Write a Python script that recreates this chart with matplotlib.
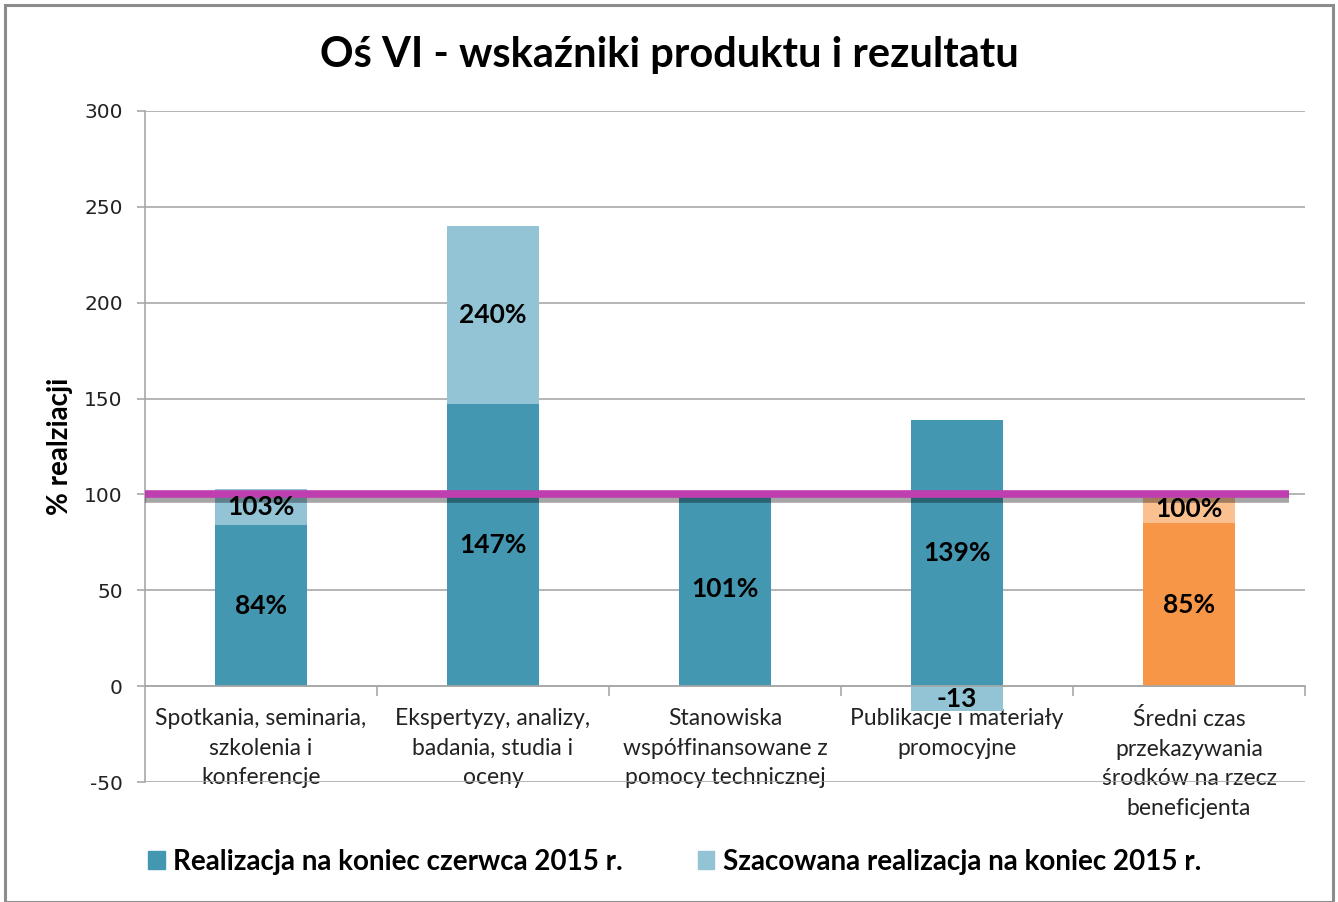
import matplotlib
matplotlib.use('Agg')
import matplotlib.pyplot as plt
import matplotlib.patheffects as pe
from matplotlib.patches import Rectangle
import numpy as np

# ---- data ----
categories = [
    "Spotkania, seminaria,\nszkolenia i\nkonferencje",
    "Ekspertyzy, analizy,\nbadania, studia i\noceny",
    "Stanowiska\nwspółfinansowane z\npomocy technicznej",
    "Publikacje i materiały\npromocyjne",
    "Średni czas\nprzekazywania\nśrodków na rzecz\nbeneficjenta",
]
realizacja = [84, 147, 101, 139, 85]              # end of June 2015
szacowana_przyrost = [19, 93, 0, -13, 15]         # additional estimated part
realizacja_labels = ["84%", "147%", "101%", "139%", "85%"]
szacowana_labels = ["103%", "240%", "", "-13", "100%"]
target = 100
series_names = ["Realizacja na koniec czerwca 2015 r.",
                "Szacowana realizacja na koniec 2015 r."]
title = "Oś VI - wskaźniki produktu i rezultatu"
ylabel = "% realziacji"

# ---- style ----
dark_colors = ["#4397B0", "#4397B0", "#4397B0", "#4397B0", "#F79646"]
light_colors = ["#93C4D6", "#93C4D6", "#93C4D6", "#93C4D6", "#FAC08F"]
grid_color = "#A8A8A8"

plt.rcParams['font.family'] = ['Lato', 'DejaVu Sans']
plt.rcParams['axes.unicode_minus'] = False

W, H = 1338, 902
fig = plt.figure(figsize=(W / 100, H / 100), dpi=100)
ax = fig.add_axes([145 / W, 1 - 782 / H, (1305 - 145) / W, (782 - 111) / H])

x = np.arange(len(categories))
bw = 0.4

ax.bar(x, realizacja, width=bw, color=dark_colors, zorder=2)
bottoms = [r if s >= 0 else 0 for r, s in zip(realizacja, szacowana_przyrost)]
ax.bar(x, szacowana_przyrost, width=bw, bottom=bottoms, color=light_colors, zorder=2)

# target line with shadow
ax.plot([-0.5, 4.43], [target, target], color="#C03FB0", lw=5.5,
        solid_capstyle='butt', zorder=4,
        path_effects=[pe.SimpleLineShadow(offset=(0, -3.4), shadow_color='k', alpha=0.35),
                      pe.Normal()])

# labels
for i in range(len(categories)):
    ax.text(x[i], realizacja[i] / 2, realizacja_labels[i], ha='center', va='center',
            fontsize=19, fontweight='bold', color='black', zorder=5)
    if szacowana_labels[i]:
        yc = bottoms[i] + szacowana_przyrost[i] / 2
        ax.text(x[i], yc, szacowana_labels[i], ha='center', va='center',
                fontsize=19, fontweight='bold', color='black', zorder=5)

ax.set_xlim(-0.5, len(categories) - 0.5)
ax.set_ylim(-50, 300)
ax.set_yticks(np.arange(-50, 301, 50))
ax.yaxis.grid(True, color=grid_color, lw=1.2, zorder=0)
ax.set_axisbelow(True)

for s in ['top', 'right']:
    ax.spines[s].set_visible(False)
ax.spines['left'].set_color(grid_color)
ax.spines['left'].set_linewidth(1.2)
ax.spines['bottom'].set_position(('data', 0))
ax.spines['bottom'].set_color(grid_color)
ax.spines['bottom'].set_linewidth(1.2)

ax.set_xticks(x)
ax.set_xticklabels(categories, fontsize=16.5, color='#222222', linespacing=1.5, va='top')
ax.set_xticks(np.arange(-0.5, len(categories), 1.0)[1:], minor=True)
ax.tick_params(axis='x', which='major', length=0, pad=16)
ax.tick_params(axis='x', which='minor', length=7, color=grid_color, width=1.2)
ax.tick_params(axis='y', length=6, color=grid_color, width=1.2, pad=10)
for lab in ax.get_yticklabels():
    lab.set_fontfamily('DejaVu Sans')
    lab.set_fontsize(14.5)
    lab.set_color('#222222')

ax.set_ylabel(ylabel, fontsize=20, fontweight='bold')
ax.yaxis.set_label_coords(-0.062, 0.50)

fig.text(0.5, 1 - 55 / H, title, ha='center', va='center', fontsize=30, fontweight='bold')

# legend
handles = [Rectangle((0, 0), 1, 1, color=light_colors[0] if i else dark_colors[0]) for i in range(2)]
fig.legend(handles, series_names, loc='center left', bbox_to_anchor=(148 / W, 1 - 862 / H),
           ncol=2, frameon=False, prop={'weight': 'bold', 'size': 20},
           handlelength=0.6, handleheight=0.6, handletextpad=0.3, columnspacing=2.7,
           borderaxespad=0, borderpad=0)

# chart frame
fig.patches.append(Rectangle((5 / W, 0), (1333 - 5) / W, 1 - 5 / H, transform=fig.transFigure,
                             fill=False, edgecolor='#8C8C8C', lw=2.2))

fig.savefig('out.png', dpi=100)
